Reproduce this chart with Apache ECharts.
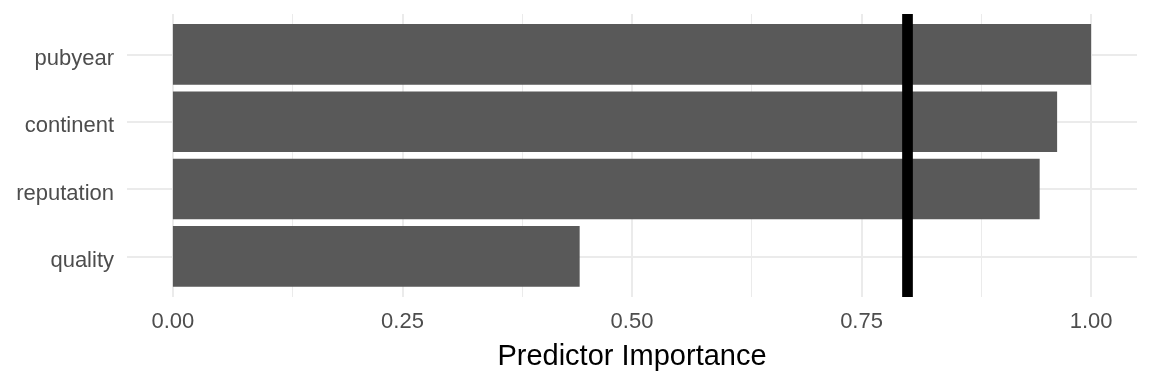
<!DOCTYPE html>
<html>
<head>
<meta charset="utf-8">
<script src="https://cdn.jsdelivr.net/npm/echarts@6/dist/echarts.min.js"></script>
<style>html,body{margin:0;padding:0;background:#fff;}#c{width:1152px;height:384px;}</style>
</head>
<body>
<div id="c"></div>
<script>
const categories = ['pubyear', 'continent', 'reputation', 'quality'];
const importance = [1.0, 0.963, 0.944, 0.443];
const majorTicks = [0, 0.25, 0.5, 0.75, 1.0];
const minorTicks = [0.125, 0.375, 0.625, 0.875];
const cutoff = 0.8;
const xTitle = 'Predictor Importance';

const FONT = "'Liberation Sans', Arial, sans-serif";
const chart = echarts.init(document.getElementById('c'), null, {renderer: 'canvas'});

const vLines = [];
majorTicks.forEach(v => vLines.push({xAxis: v, lineStyle: {width: 2}}));
minorTicks.forEach(v => vLines.push({xAxis: v, lineStyle: {width: 1}}));
const hLines = categories.map(c => ({yAxis: c, lineStyle: {width: 2}}));

chart.setOption({
  animation: false,
  grid: [
    {left: 127, right: 15, top: 14, bottom: 87, containLabel: false},
    {left: 127, right: 15, top: 20.7, bottom: 94, containLabel: false}
  ],
  xAxis: [
    {
      gridIndex: 0, type: 'value', min: -0.05, max: 1.05,
      splitLine: {show: false}, axisLine: {show: false}, axisTick: {show: false},
      axisLabel: {
        customValues: majorTicks,
        formatter: v => v.toFixed(2),
        color: '#4D4D4D', fontSize: 22, fontFamily: FONT, margin: 14
      },
      name: xTitle, nameLocation: 'middle', nameGap: 45,
      nameTextStyle: {color: '#000', fontSize: 29, fontFamily: FONT}
    },
    {
      gridIndex: 1, type: 'value', min: -0.05, max: 1.05, show: false,
      splitLine: {show: false}
    }
  ],
  yAxis: [
    {
      gridIndex: 0, type: 'value', min: 0, max: 1, show: false,
      splitLine: {show: false}
    },
    {
      gridIndex: 1, type: 'category', data: categories, inverse: true,
      axisLine: {show: false}, axisTick: {show: false}, splitLine: {show: false},
      axisLabel: {
        margin: 13,
        formatter: v => '{a|' + v + '}',
        rich: {a: {color: '#4D4D4D', fontSize: 22, fontFamily: FONT, padding: [9, 0, 0, 0]}}
      }
    }
  ],
  series: [
    {
      type: 'line', xAxisIndex: 0, yAxisIndex: 0, data: [], z: 0, silent: true, showSymbol: false,
      markLine: {
        silent: true, symbol: 'none', z: 0, label: {show: false},
        lineStyle: {color: '#EBEBEB', type: 'solid'},
        data: vLines
      }
    },
    {
      type: 'line', xAxisIndex: 1, yAxisIndex: 1, data: [], z: 0, silent: true, showSymbol: false,
      markLine: {
        silent: true, symbol: 'none', z: 0, label: {show: false},
        lineStyle: {color: '#EBEBEB', type: 'solid'},
        data: hLines
      }
    },
    {
      type: 'bar', xAxisIndex: 1, yAxisIndex: 1, data: importance, barCategoryGap: '10%', z: 2,
      itemStyle: {color: '#595959'}, silent: true
    },
    {
      type: 'line', xAxisIndex: 0, yAxisIndex: 0, data: [], z: 10, silent: true, showSymbol: false,
      markLine: {
        silent: true, symbol: 'none', z: 10, label: {show: false},
        lineStyle: {color: '#000', width: 10.7, type: 'solid'},
        data: [{xAxis: cutoff}]
      }
    }
  ]
});
</script>
</body>
</html>
